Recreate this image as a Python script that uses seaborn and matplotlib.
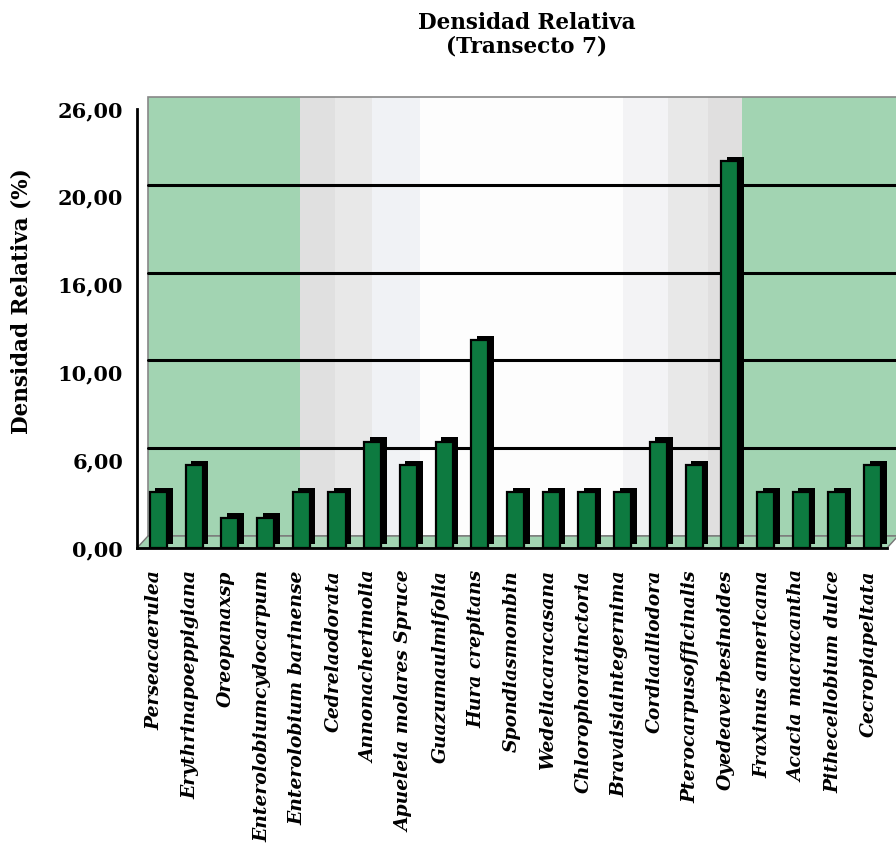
# Densidad relativa por especie, transecto 7
# ==============================================================================
import numpy as np
import pandas as pd
import matplotlib
matplotlib.use("Agg")
import matplotlib.pyplot as plt
import matplotlib.patheffects as pe
from matplotlib.patches import Rectangle, Polygon
from matplotlib.transforms import offset_copy
import seaborn as sns

# Datos
# ==============================================================================
especies = [
    "Perseacaerulea", "Erythrinapoeppigiana", "Oreopanaxsp",
    "Enterolobiumcydocarpum", "Enterolobium barinense", "Cedrelaodorata",
    "Annonacherimolia", "Apueleia molares Spruce", "Guazumaulmifolia",
    "Hura crepitans", "Spondiasmombin", "Wedeliacaracasana",
    "Chlorophoratinctoria", "Bravaisiaintegernima", "Cordiaalliodora",
    "Pterocarpusofficinalis", "Oyedeaverbesinoides", "Fraxinus americana",
    "Acacia macracantha", "Pithecellobium dulce", "Cecropiapeltata",
]
densidad = [3.3, 4.9, 1.8, 1.8, 3.3, 3.3, 6.3, 4.9, 6.3, 12.3, 3.3,
            3.3, 3.3, 3.3, 6.3, 4.9, 22.9, 3.3, 3.3, 3.3, 4.9]
ticks_y = [0, 5.2, 10.4, 15.6, 20.8, 26]
etiquetas_y = ["0,00", "6,00", "10,00", "16,00", "20,00", "26,00"]

df = pd.DataFrame({"especie": especies, "densidad": densidad})

# Configuración
# ==============================================================================
sns.set_style("white")
plt.rcParams["font.family"] = ["DejaVu Serif"]
plt.rcParams["font.weight"] = "bold"
plt.rcParams["text.color"] = "black"
plt.rcParams["axes.labelcolor"] = "black"
plt.rcParams["xtick.color"] = "black"
plt.rcParams["ytick.color"] = "black"

fig = plt.figure(figsize=(8.96, 8.66), dpi=100, facecolor="white")
ax = fig.add_axes([137 / 896, 1 - 548 / 866, 750 / 896, 439 / 866])
ax.set_facecolor("none")

# Barras
# ==============================================================================
sns.barplot(data=df, x="especie", y="densidad", color="#0d7a40",
            saturation=1, width=0.48, edgecolor="black", linewidth=1.6,
            ax=ax, zorder=2)
for p in ax.containers[0]:
    p.set_x(p.get_x() + 0.1)
    p.set_path_effects([pe.SimplePatchShadow(offset=(4, 3), shadow_rgbFace="black",
                                             alpha=1), pe.Normal()])

# pared del fondo (efecto 3D) desplazada
# ==============================================================================
pared = offset_copy(ax.transAxes, fig=fig, x=11, y=12, units="dots")
bandas = [
    (0.000, 0.203, "#a2d4b2"), (0.203, 0.249, "#e0e0e0"),
    (0.249, 0.299, "#e8e8e8"), (0.299, 0.363, "#f0f2f5"),
    (0.363, 0.633, "#fdfdfd"), (0.633, 0.693, "#f3f3f5"),
    (0.693, 0.747, "#e8e8e8"), (0.747, 0.792, "#e0dfdf"),
    (0.792, 1.000, "#a2d4b2"),
]
for x0, x1, c in bandas:
    ax.add_patch(Rectangle((x0, 0), x1 - x0, 1, transform=pared,
                           facecolor=c, edgecolor="none", zorder=0, clip_on=False))
ax.add_patch(Rectangle((0, 0), 1, 1, transform=pared, facecolor="none",
                       edgecolor="#888888", lw=1.2, zorder=0.5, clip_on=False))

# suelo
dx, dy = 11 / 750, 12 / 439
ax.add_patch(Polygon([(0, 0), (1, 0), (1 + dx, dy), (dx, dy)], closed=True,
                     transform=ax.transAxes, facecolor="#a2d4b2",
                     edgecolor="#777777", lw=1, zorder=0.6, clip_on=False))

# líneas de la rejilla sobre la pared
rejilla = offset_copy(ax.get_yaxis_transform(), fig=fig, x=11, y=12, units="dots")
for t in ticks_y[1:-1]:
    ax.plot([0, 1], [t, t], transform=rejilla, color="black", lw=2.2,
            zorder=0.8, clip_on=False)

# Ejes
# ==============================================================================
ax.set_xlim(-0.5, len(especies) - 0.5)
ax.set_ylim(0, 26)
ax.set_yticks(ticks_y)
ax.set_yticklabels(etiquetas_y, fontsize=15, fontweight="bold")
ax.set_xticks(range(len(especies)))
ax.set_xticklabels(especies, rotation=90, fontsize=13.5, fontweight="bold",
                   fontstyle="italic")
ax.set_xticks(np.arange(-0.5, len(especies)), minor=True)
ax.tick_params(axis="x", which="major", length=0, pad=16)
ax.tick_params(axis="x", which="minor", length=8, width=2, color="black",
               direction="out")
ax.tick_params(axis="y", length=7, width=2, color="black", direction="out", pad=3)

for s in ["top", "right"]:
    ax.spines[s].set_visible(False)
for s in ["left", "bottom"]:
    ax.spines[s].set_color("black")
    ax.spines[s].set_linewidth(2)
    ax.spines[s].set_zorder(3)

ax.set_xlabel("")
ax.set_ylabel("Densidad Relativa (%)", fontsize=15.5, fontweight="bold")
ax.yaxis.set_label_coords(-0.139, 0.563)

fig.text(527 / 896, 1 - 12 / 866, "Densidad Relativa\n(Transecto 7)",
         ha="center", va="top", fontsize=15.5, fontweight="bold", linespacing=1.1)

plt.savefig("out.png", dpi=100)
